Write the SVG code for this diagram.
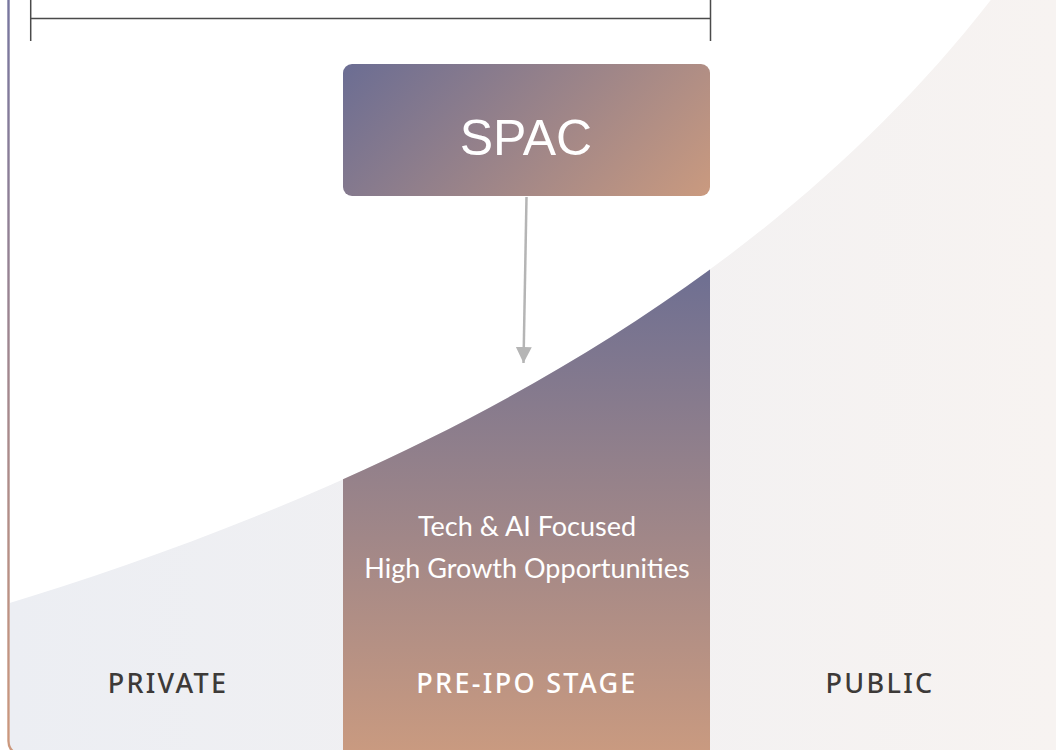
<svg xmlns="http://www.w3.org/2000/svg" width="1063" height="750" viewBox="0 0 1063 750">
  <defs>
    <linearGradient id="bgGrad" x1="0" y1="0" x2="1" y2="0">
      <stop offset="0" stop-color="#eceef3"/>
      <stop offset="1" stop-color="#f7f3f1"/>
    </linearGradient>
    <linearGradient id="colGrad" x1="0" y1="270" x2="0" y2="750" gradientUnits="userSpaceOnUse">
      <stop offset="0" stop-color="#6e6f92"/>
      <stop offset="1" stop-color="#c99a80"/>
    </linearGradient>
    <linearGradient id="boxGrad" x1="343" y1="64" x2="592.5" y2="313.5" gradientUnits="userSpaceOnUse">
      <stop offset="0" stop-color="#6b6d93"/>
      <stop offset="1" stop-color="#ca9a7f"/>
    </linearGradient>
    <linearGradient id="borderGrad" x1="0" y1="0" x2="0" y2="750" gradientUnits="userSpaceOnUse">
      <stop offset="0" stop-color="#77769f"/>
      <stop offset="1" stop-color="#cc987d"/>
    </linearGradient>
    <clipPath id="colClip">
      <rect x="343" y="0" width="367" height="750"/>
    </clipPath>
    <marker id="arrow" viewBox="0 0 16 16" refX="16" refY="8" markerWidth="16" markerHeight="16" markerUnits="userSpaceOnUse" orient="auto">
      <path d="M0 0 L16 8 L0 16 Z" fill="#b5b5b5"/>
    </marker>
    <style>
      .label { font-family: "Noto Sans", "Open Sans", "Liberation Sans", sans-serif; font-size: 27px; font-weight: 500; letter-spacing: 2.3px; text-anchor: middle; }
      .dark { fill: #3d3a38; }
      .light { fill: #ffffff; }
      .desc { font-family: Lato, "Liberation Sans", sans-serif; font-size: 27px; fill: #ffffff; text-anchor: middle; }
      .bracket { stroke: #4a4a4a; stroke-width: 1.5; fill: none; }
    </style>
  </defs>

  <g id="background">
    <rect x="0" y="0" width="1063" height="750" fill="#ffffff"/>
    <rect x="10" y="0" width="1046" height="750" fill="url(#bgGrad)"/>
    <path d="M0 750 L0 606 C350 500 750 318 1000 -12 L0 -12 Z" fill="#ffffff"/>
  </g>

  <g id="pre-ipo-column" clip-path="url(#colClip)">
    <path d="M0 606 C350 500 750 318 1000 -12 L1063 -12 L1063 760 L0 760 Z" fill="url(#colGrad)"/>
  </g>

  <g id="left-border">
    <path d="M8.5 -5 V741 Q8.5 750 16 753" fill="none" stroke="url(#borderGrad)" stroke-width="2.4"/>
  </g>

  <g id="bracket">
    <path class="bracket" d="M30.7 0 V41 M30.7 18.5 H710.5 M710.5 0 V41"/>
  </g>

  <g id="spac">
    <rect x="343" y="64" width="367" height="132" rx="9" fill="url(#boxGrad)"/>
    <text x="526" y="155" font-family="Liberation Sans, Arial, sans-serif" font-size="50" fill="#ffffff" text-anchor="middle">SPAC</text>
  </g>

  <g id="connectors">
    <line x1="526.5" y1="197" x2="523.5" y2="363" stroke="#b5b5b5" stroke-width="2.5" marker-end="url(#arrow)"/>
  </g>

  <g id="description">
    <text class="desc" x="527" y="536">Tech &amp; AI Focused</text>
    <text class="desc" x="527" y="578">High Growth Opportunities</text>
  </g>

  <g id="label-private">
    <text class="label dark" x="168" y="693">PRIVATE</text>
  </g>
  <g id="label-pre-ipo">
    <text class="label light" x="527" y="693">PRE-IPO STAGE</text>
  </g>
  <g id="label-public">
    <text class="label dark" x="880" y="693">PUBLIC</text>
  </g>
</svg>
